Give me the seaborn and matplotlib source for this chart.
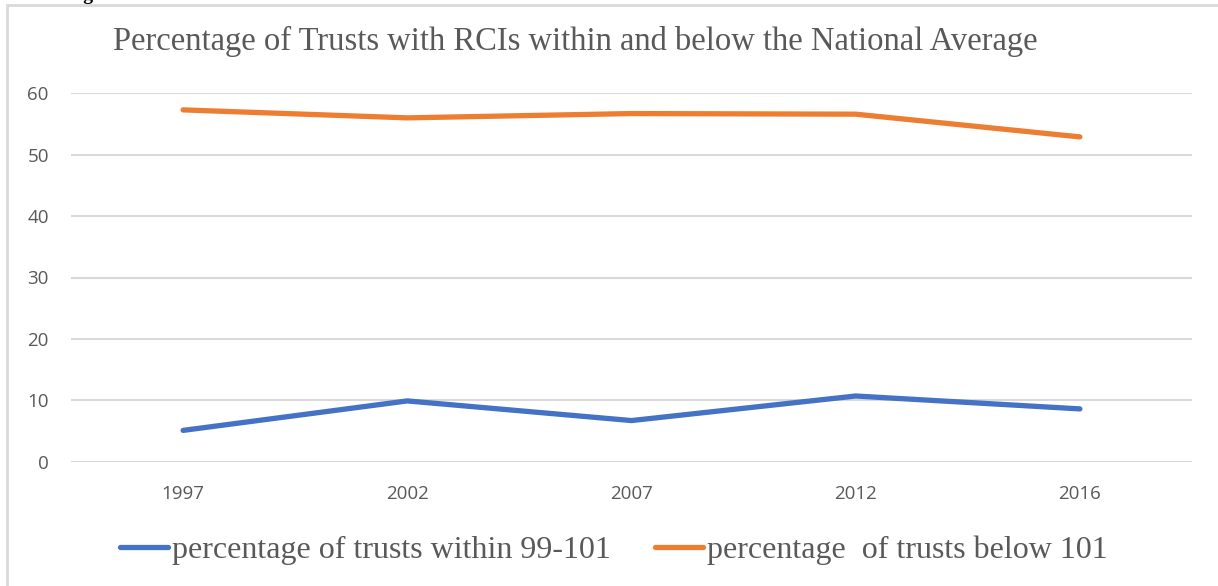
import matplotlib
matplotlib.use("Agg")
import matplotlib.pyplot as plt
import matplotlib.patches as mpatches
import seaborn as sns
import pandas as pd

years = ["1997", "2002", "2007", "2012", "2016"]
within_99_101 = [5.1, 9.9, 6.7, 10.7, 8.6]
below_101 = [57.3, 56.0, 56.7, 56.6, 52.9]
series_names = ["percentage of trusts within 99-101", "percentage  of trusts below 101"]
yticks = [0, 10, 20, 30, 40, 50, 60]
title = "Percentage of Trusts with RCIs within and below the National Average"

df = pd.DataFrame({
    "year": years * 2,
    "value": within_99_101 + below_101,
    "series": [series_names[0]] * len(years) + [series_names[1]] * len(years),
})

sns.set_theme(style="white")
plt.rcParams["font.family"] = ["Open Sans", "DejaVu Sans"]

W, H = 1218, 586
fig = plt.figure(figsize=(W / 100, H / 100), dpi=100)
ax = fig.add_axes([71 / W, 1 - 461.7 / H, (1192 - 71) / W, (461.7 - 93.3) / H])

palette = {series_names[0]: "#4472C4", series_names[1]: "#ED7D31"}
sns.lineplot(data=df, x="year", y="value", hue="series", palette=palette,
             linewidth=3.8, ax=ax, sort=False, legend=True)

ax.set_xlim(-0.5, len(years) - 0.5)
ax.set_ylim(0, 60)
ax.set_yticks(yticks)
ax.set_xlabel("")
ax.set_ylabel("")
for s in ax.spines.values():
    s.set_visible(False)
ax.grid(axis="y", color="#d9d9d9", linewidth=1.5)
ax.grid(axis="x", visible=False)
ax.tick_params(axis="both", length=0, labelsize=13.5, labelcolor="#595959")
ax.tick_params(axis="y", pad=16)
ax.tick_params(axis="x", pad=17)

handles, labels = ax.get_legend_handles_labels()
ax.get_legend().remove()
leg = fig.legend(handles, labels, loc="center", bbox_to_anchor=(614 / W, 1 - 550 / H),
                 ncol=2, frameon=False, handlelength=1.5, handletextpad=0.12,
                 columnspacing=1.4,
                 prop={"family": "Liberation Serif", "size": 23})
for t in leg.get_texts():
    t.set_color("#595959")
for l in leg.get_lines():
    l.set_linewidth(3.8)

fig.text(113 / W, 1 - 41 / H, title, family="Liberation Serif", fontsize=23.5,
         color="#595959", ha="left", va="center")

fig.text(66 / W, 1 + 0.5 / H, "Figure 1", family="Liberation Serif", fontsize=14,
         fontweight="bold", color="black", ha="left", va="baseline")

frame = mpatches.Rectangle((7 / W, -0.1), 1.2, 1 - 5 / H + 0.1, transform=fig.transFigure,
                           fill=False, edgecolor="#d9d9d9", linewidth=2, clip_on=False)
fig.patches.append(frame)

fig.savefig("out.png", dpi=100)
